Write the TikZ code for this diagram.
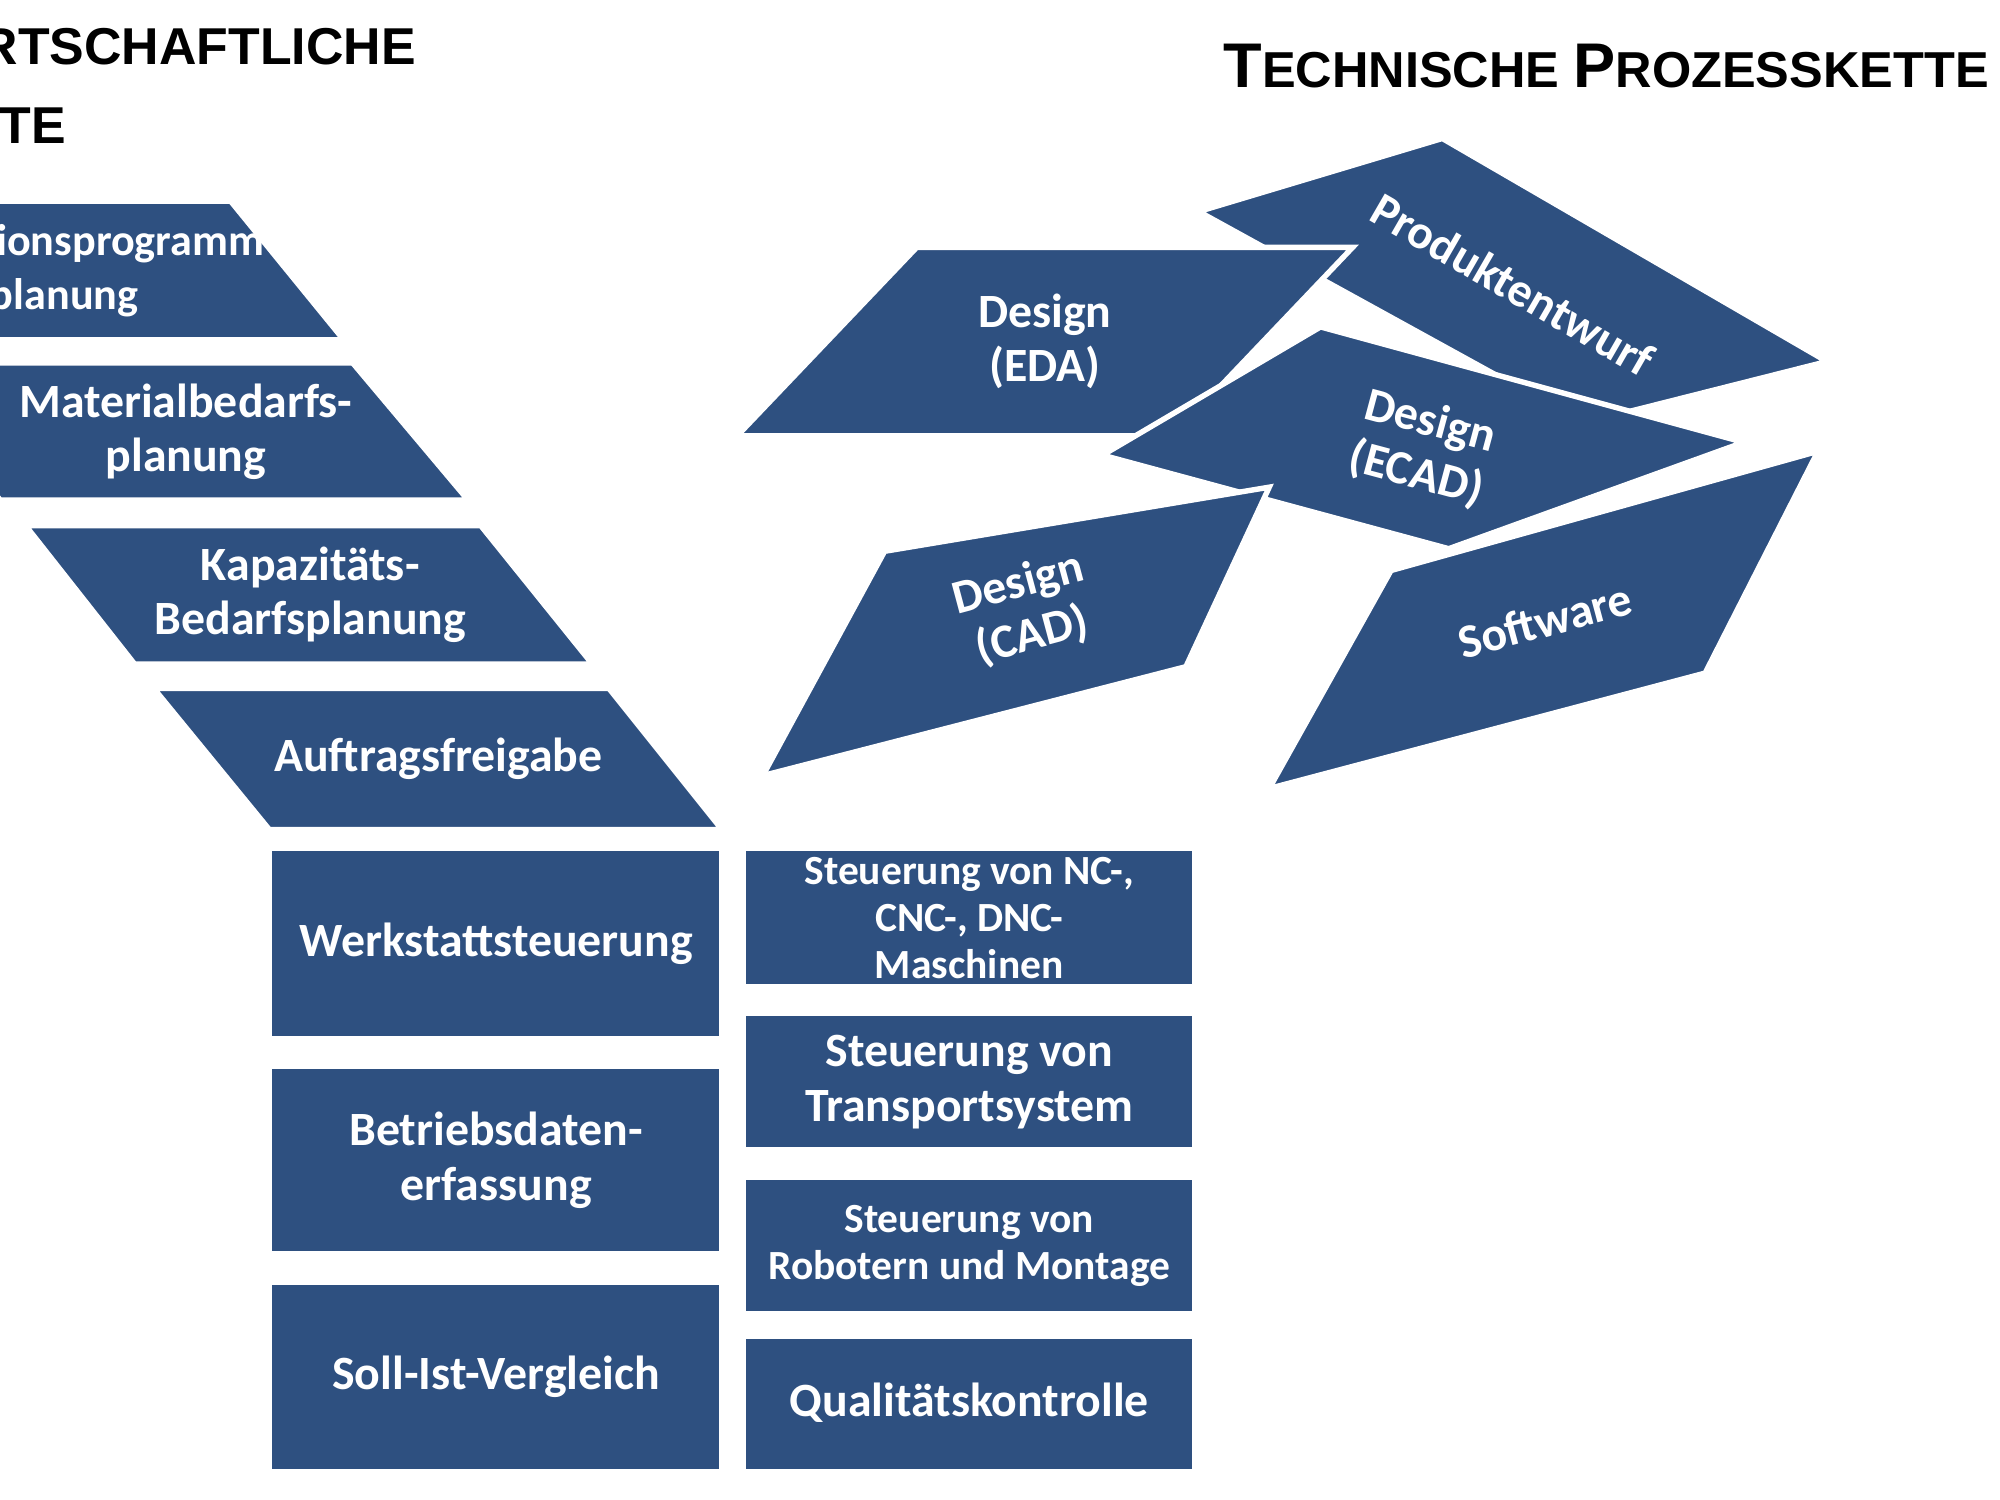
\documentclass[tikz,border=0pt]{standalone}
\usepackage{fontspec}
\setmainfont{Carlito}
\newfontfamily\titlefont{Liberation Sans}
\definecolor{boxblue}{HTML}{2E5080}
\begin{document}
\begin{tikzpicture}[x=0.01cm,y=-0.01cm,
  shp/.style={fill=boxblue,draw=white,line width=1.2pt},
  lbl/.style={text=white,font=\bfseries\fontsize{10.6}{12}\selectfont,align=center},
  sml/.style={text=white,font=\bfseries\fontsize{9.2}{10.4}\selectfont,align=center},
  ttl/.style={font=\titlefont\bfseries,anchor=base east,inner sep=0pt}]
\useasboundingbox (0,0) rectangle (1560,1170);
\clip (0,0) rectangle (1560,1170);
% titles
\node[ttl] (t1) at (325,50) {\fontsize{14}{14}\selectfont W\fontsize{11.5}{11.5}\selectfont IRTSCHAFTLICHE};
\node[ttl] (t2) at (52,112) {\fontsize{14}{14}\selectfont P\fontsize{11.5}{11.5}\selectfont ROZESSKETTE};
\node[ttl] (t3) at (1552,68) {\fontsize{14}{14}\selectfont T\fontsize{11.2}{11.2}\selectfont ECHNISCHE \fontsize{14}{14}\selectfont P\fontsize{11.2}{11.2}\selectfont ROZESSKETTE};
% left parallelograms
\draw[shp] (-170,157) -- (180,157) -- (268,265) -- (-80,265) -- cycle;
\node[lbl,font=\bfseries\fontsize{9.8}{12}\selectfont] (p1) at (50,211) {Produktionsprogramm-\\planung};
\draw[shp] (-80,283) -- (275,283) -- (365,390) -- (0,390) -- cycle;
\node[lbl] (p2) at (145,337) {Materialbedarfs-\\planung};
\draw[shp] (20,410) -- (375,410) -- (462,518) -- (105,518) -- cycle;
\node[lbl] (p3) at (242,464) {Kapazitäts-\\Bedarfsplanung};
\draw[shp] (120,537) -- (475,537) -- (563,647) -- (210,647) -- cycle;
\node[lbl] (p4) at (342,592) {Auftragsfreigabe};
% left rectangles
\draw[shp] (210,662) rectangle (563,810);
\node[lbl] (r1) at (387,736) {Werkstattsteuerung};
\draw[shp] (210,832) rectangle (563,978);
\node[lbl] (r2) at (387,905) {Betriebsdaten-\\erfassung};
\draw[shp] (210,1000) rectangle (563,1148);
\node[lbl] (r3) at (387,1074) {Soll-Ist-Vergleich};
% right rectangles
\draw[shp] (580,662) rectangle (932,770);
\node[sml] (s1) at (756,716) {Steuerung von NC-,\\CNC-, DNC-\\Maschinen};
\draw[shp] (580,790) rectangle (932,897);
\node[lbl] (s2) at (756,844) {Steuerung von\\Transportsystem};
\draw[shp] (580,918) rectangle (932,1025);
\node[sml] (s3) at (756,972) {Steuerung von\\Robotern und Montage};
\draw[shp] (580,1042) rectangle (932,1148);
\node[lbl] (s4) at (756,1094) {Qualitätskontrolle};
% technical shapes
\draw[shp] (935,165) -- (1125,108) -- (1425,282) -- (1235,330) -- cycle;
\node[lbl,rotate=-30] (q1) at (1180,222) {Produktentwurf};
\draw[shp] (575,340) -- (715,193) -- (1055,193) -- (915,340) -- cycle;
\node[lbl] (q2) at (815,266) {Design\\(EDA)};
\draw[shp] (860,355) -- (1030,255) -- (1360,345) -- (1130,428) -- cycle;
\node[lbl,rotate=-15] (q3) at (1110,350) {Design\\(ECAD)};
\draw[shp] (595,605) -- (690,430) -- (990,380) -- (925,520) -- cycle;
\node[lbl,rotate=15] (q4) at (800,476) {Design\\(CAD)};
\draw[shp] (990,615) -- (1085,445) -- (1418,352) -- (1330,525) -- cycle;
\node[lbl,rotate=15] (q5) at (1205,484) {Software};
\end{tikzpicture}
\end{document}
